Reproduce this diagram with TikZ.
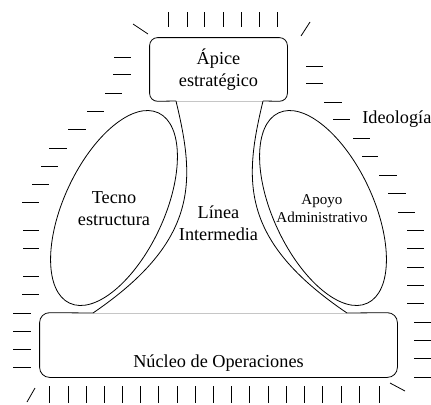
\documentclass[tikz,border=0pt]{standalone}
\usepackage{fontspec}
\setmainfont{Liberation Serif}
\newfontfamily\serifa{Liberation Serif}
\usetikzlibrary{positioning}

\begin{document}
\begin{tikzpicture}[x=0.75pt, y=-0.75pt, line width = 0.6pt,
  caja/.style={minimum width=#1, inner sep=0pt},
  texto/.style={align=center, font=\serifa\fontsize{13.7}{16.5}\selectfont},
  textochico/.style={align=center, font=\serifa\fontsize{11.3}{13.5}\selectfont},
  raya/.style={line width=0.6pt}]

\useasboundingbox (0,0) rectangle (431,404);

% cajas
\node [caja=102.75pt, minimum height=47.25pt, texto] (apice) at (218.5,69.5) {Ápice\\estratégico};
\node [caja=267.75pt, minimum height=48pt] (nucleo) at (218.5,345) {};
\node [texto, below=4pt of nucleo.center] (nucleoTxt) {Núcleo de Operaciones};

\coordinate (aL) at (176,101);
\coordinate (aR) at (263,101);
\coordinate (nL) at (93,313);
\coordinate (nR) at (347,313);

\draw[rounded corners=6pt] (aL) -- (apice.south west) -- (apice.north west) -- (apice.north east) -- (apice.south east) -- (aR);
\draw[gray!45] (aL) -- (aR);

\draw[rounded corners=7.5pt] (nL) -- (nucleo.north west) -- (nucleo.south west) -- (nucleo.south east) -- (nucleo.north east) -- (nR);
\draw[gray!45] (nL) -- (nR);

% linea intermedia
\draw (aL) .. controls (195,180) and (200,240) .. (nL);
\draw (aR) .. controls (244,180) and (239,240) .. (nR);
\node [texto] (linea) at (218.5,223) {Línea\\Intermedia};

% tecnoestructura y apoyo
\draw[rotate around={65:(114,208)}] (114,208) ellipse [x radius=105, y radius=50];
\draw[rotate around={-65:(323,208)}] (323,208) ellipse [x radius=105, y radius=50];
\node [texto] (tecno) at (114,209) {Tecno\\estructura};
\node [textochico] (apoyo) at (322,209) {Apoyo\\Administrativo};

% ideologia
\node [texto, anchor=west, inner sep=0pt] (ideo) at (362,119) {Ideología};

\draw[raya] (168,12)--(168,27) (187,12)--(187,27) (204,12)--(204,27) (223,12)--(223,27)
  (241,12)--(241,27) (259,12)--(259,27) (277,12)--(277,27);
\draw[raya] (133,24)--(148,34) (310,22)--(301,36);

\draw[raya] (114,57)--(131,57) (113,74)--(131,74) (105,93)--(122,93) (87,111)--(104,111)
  (68,129)--(86,129) (49,148)--(67,148) (41,166)--(58,166) (32,184)--(49,184)
  (22,202)--(39,202) (23,230)--(39,230) (23,248)--(39,248) (23,276)--(39,276)
  (22,294)--(39,294) (13,313)--(31,313) (13,331)--(31,331) (13,349)--(31,349) (13,367)--(31,367);

\draw[raya] (306,66)--(323,66) (306,83)--(323,83) (324,102)--(342,102) (333,119)--(350,119)
  (353,138)--(370,138) (362,156)--(378,156) (379,175)--(397,175) (388,193)--(406,193)
  (398,212)--(415,212) (407,230)--(424,230) (407,248)--(424,248) (407,267)--(424,267)
  (407,285)--(424,285) (407,303)--(424,303) (414,322)--(431,322) (414,340)--(431,340)
  (414,358)--(431,358) (414,377)--(431,377);

\draw[raya] (49,386)--(49,403) (68,386)--(68,403) (86,386)--(86,403) (104,386)--(104,403)
  (122,386)--(122,403) (140,386)--(140,403) (158,386)--(158,403) (177,386)--(177,403)
  (195,386)--(195,403) (213,386)--(213,403) (231,386)--(231,403) (249,386)--(249,403)
  (268,386)--(268,403) (286,386)--(286,403) (304,386)--(304,403) (322,386)--(322,403)
  (341,386)--(341,403) (359,386)--(359,403) (379,386)--(379,403);
\draw[raya] (27,402)--(35,388) (390,383)--(405,391);

\end{tikzpicture}
\end{document}
